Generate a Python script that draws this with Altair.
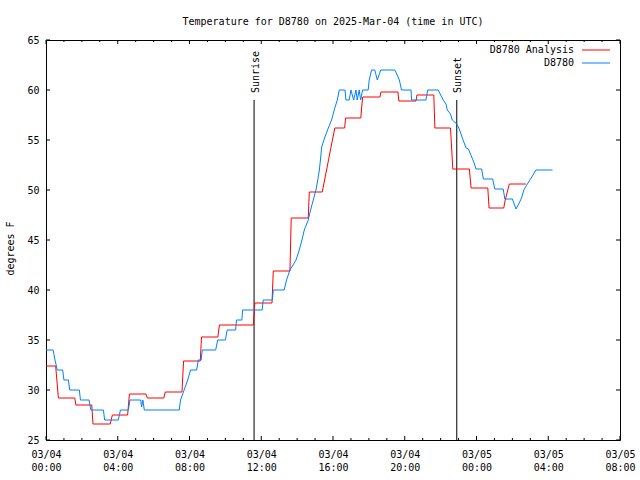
import altair as alt
import pandas as pd

# ---- data (hours after 2025-03-04 00:00 UTC, degrees F) ----
red_hours = [0, 0.54, 0.69, 1.6, 1.67, 2.55, 2.62, 3.58, 3.7, 4.55, 4.65, 5.57, 5.65, 6.57, 6.65,
             7.58, 7.67, 8.6, 8.67, 9.58, 9.67, 11.56, 11.64, 12.6, 12.67, 13.6, 13.67, 14.62,
             14.68, 15.4, 16.1, 16.65, 16.7, 17.55, 17.65, 18.62, 18.67, 19.62, 19.67, 20.63,
             20.68, 21.62, 21.68, 22.55, 22.68, 23.6, 23.7, 24.63, 24.7, 25.52, 25.6, 25.83, 26.75]
red_temps = [32.4, 32.4, 29.2, 29.2, 28.5, 28.5, 26.6, 26.6, 27.5, 27.5, 29.6, 29.6, 29.2, 29.2, 29.8,
             29.8, 32.9, 32.9, 35.3, 35.3, 36.5, 36.5, 38.7, 38.7, 41.9, 41.9, 47.2, 47.2,
             49.8, 49.8, 56.2, 56.2, 57.2, 57.2, 59.3, 59.3, 59.8, 59.8, 58.9, 58.9,
             59.5, 59.5, 56.2, 56.2, 52.1, 52.1, 50.2, 50.2, 48.2, 48.2, 49.0, 50.6, 50.6]

blue_hours = [0, 0.4, 0.5, 0.63, 0.93, 1.0, 1.25, 1.32, 1.86, 1.92, 2.4, 2.5, 3.2, 3.27, 4.03,
              4.15, 4.59, 4.68, 5.28, 5.33, 5.4, 5.48, 7.43, 7.5, 7.7, 7.9, 8.06, 8.4, 8.49,
              8.65, 8.71, 9.46, 9.57, 10.0, 10.1, 10.57, 10.62, 10.92, 10.96, 12.05, 12.11,
              12.62, 12.67, 13.28, 13.41, 13.6, 13.94, 14.12, 14.27, 14.4, 14.62, 14.75, 14.9,
              15.05, 15.15, 15.24, 15.3, 15.37, 15.55, 15.74, 15.92, 16.1, 16.24, 16.35, 16.67,
              16.72, 16.9, 17.0, 17.15, 17.28, 17.35, 17.46, 17.54, 17.65, 17.96, 18.02, 18.15,
              18.33, 18.47, 18.66, 19.45, 19.58, 19.7, 19.82, 20.35, 20.38, 21.18, 21.28, 21.87,
              22.0, 22.15, 22.3, 22.37, 22.55, 22.65, 22.9, 23.04, 23.23, 23.42, 23.55, 23.73,
              23.85, 23.97, 24.29, 24.38, 24.9, 25.02, 25.49, 25.58, 26.0, 26.2, 26.38, 26.51,
              26.64, 26.8, 26.98, 27.15, 27.31, 28.24]
blue_temps = [34.0, 34.0, 33.0, 32.0, 32.0, 31.0, 31.0, 30.0, 30.0, 29.0, 29.0, 28.0, 28.0, 27.0, 27.0,
              28.0, 28.0, 29.0, 29.0, 28.3, 29.0, 28.0, 28.0, 29.0, 30.0, 31.0, 32.0, 32.0, 33.0,
              33.0, 34.0, 34.0, 35.0, 35.0, 36.0, 36.0, 37.0, 37.0, 38.0, 38.0, 39.0,
              39.0, 40.0, 40.0, 41.0, 42.0, 43.0, 44.0, 45.0, 46.0, 47.0, 48.0, 49.0,
              50.0, 51.0, 52.0, 53.0, 54.3, 55.3, 56.2, 57.0, 58.2, 59.0, 60.0, 60.0,
              59.0, 59.0, 60.0, 59.0, 60.0, 59.0, 60.0, 59.0, 60.0, 60.0, 61.0, 62.0,
              62.0, 61.0, 62.0, 62.0, 61.5, 61.0, 60.0, 60.0, 59.0, 59.0, 60.0, 60.0,
              59.5, 59.0, 58.6, 58.0, 57.6, 57.0, 56.6, 56.1, 55.1, 54.2, 54.1, 53.3,
              52.8, 52.1, 52.1, 51.1, 51.1, 50.1, 50.1, 49.1, 49.1, 48.1, 48.7, 49.2,
              50.0, 50.5, 51.0, 51.5, 52.0, 52.0]

sun_labels = ["Sunrise", "Sunset"]
sun_hours = [11.6, 22.9]
sun_top = [59, 59]

legend_labels = ["D8780 Analysis", "D8780"]
legend_colors = ["#ff0000", "#0080ff"]

x_major = list(range(0, 33, 4))
x_minor = [h for h in range(0, 33) if h % 4 != 0]
y_major = list(range(25, 66, 5))

title_text = "Temperature for D8780 on 2025-Mar-04 (time in UTC)"
FONT = "DejaVu Sans Mono"

red_df = pd.DataFrame({"hour": red_hours, "temp": red_temps})
blue_df = pd.DataFrame({"hour": blue_hours, "temp": blue_temps})
sun_df = pd.DataFrame({"hour": sun_hours, "temp": sun_top, "label": sun_labels, "base": [25, 25]})

W, H = 574, 400

x_enc = alt.X("hour:Q", scale=alt.Scale(domain=[0, 32], nice=False, zero=False),
              axis=alt.Axis(values=x_major, ticks=False, domain=False, grid=False, title=None,
                            labelExpr="[datum.value < 24 ? '03/04' : '03/05', "
                                      "(datum.value % 24 < 10 ? '0' : '') + (datum.value % 24) + ':00']",
                            labelPadding=9, labelLineHeight=13, labelBaseline="top",
                            labelFont=FONT, labelFontSize=10, labelColor="black",
                            labelAngle=0, labelOverlap=False, labelFlush=False))
y_enc = alt.Y("temp:Q", scale=alt.Scale(domain=[25, 65], nice=False, zero=False),
              axis=alt.Axis(values=y_major, ticks=False, domain=False, grid=False,
                            title="degrees F", titleFont=FONT, titleFontSize=10,
                            titleFontWeight="normal", titleColor="black", titleAngle=270,
                            titleX=-36, titleY=208, titleAlign="center", titleBaseline="middle",
                            labelPadding=7, labelFont=FONT, labelFontSize=10, labelColor="black"))

red_line = alt.Chart(red_df).mark_line(color="#ff0000", strokeWidth=1).encode(x=x_enc, y=y_enc)
blue_line = alt.Chart(blue_df).mark_line(color="#0080ff", strokeWidth=1).encode(x=x_enc, y=y_enc)

sun_rule = alt.Chart(sun_df).mark_rule(color="black", strokeWidth=1).encode(
    x=x_enc, y=y_enc, y2="base:Q")
sun_text = alt.Chart(sun_df).mark_text(angle=270, align="left", baseline="middle", dx=7, dy=1.5,
                                       font=FONT, fontSize=10, color="black").encode(
    x=x_enc, y=y_enc, text="label:N")

xmaj = pd.DataFrame({"hour": x_major})
xmin = pd.DataFrame({"hour": x_minor})
ymaj = pd.DataFrame({"temp": y_major})

ticks = [
    alt.Chart(xmaj).mark_rule(color="black").encode(x=x_enc, y=alt.value(H), y2=alt.value(H - 4)),
    alt.Chart(xmaj).mark_rule(color="black").encode(x=x_enc, y=alt.value(0), y2=alt.value(4)),
    alt.Chart(xmin).mark_rule(color="black").encode(x=x_enc, y=alt.value(H), y2=alt.value(H - 2)),
    alt.Chart(xmin).mark_rule(color="black").encode(x=x_enc, y=alt.value(0), y2=alt.value(2)),
    alt.Chart(ymaj).mark_rule(color="black").encode(y=y_enc, x=alt.value(0), x2=alt.value(4)),
    alt.Chart(ymaj).mark_rule(color="black").encode(y=y_enc, x=alt.value(W), x2=alt.value(W - 4)),
]

legend_layers = []
for i, (lab, col) in enumerate(zip(legend_labels, legend_colors)):
    ypos = 10 + 13 * i
    ldf = pd.DataFrame({"label": [lab]})
    legend_layers.append(alt.Chart(ldf).mark_text(align="right", baseline="middle", font=FONT,
                                                  fontSize=10, color="black").encode(
        text="label:N", x=alt.value(528), y=alt.value(ypos)))
    legend_layers.append(alt.Chart(ldf).mark_rule(color=col, strokeWidth=1).encode(
        x=alt.value(536), x2=alt.value(564), y=alt.value(ypos)))

chart = alt.layer(sun_rule, *ticks, red_line, blue_line, sun_text, *legend_layers).properties(
    width=W, height=H,
    title=alt.TitleParams(title_text, font=FONT, fontSize=10, fontWeight="normal",
                          anchor="middle", color="black", offset=0, baseline="alphabetic"),
    padding={"left": 46, "top": 40, "right": 20, "bottom": 40},
    autosize="none",
    background="white",
).configure_view(stroke="black", strokeWidth=1)

chart.save("out.html", embed_options={"renderer": "svg", "actions": False})
